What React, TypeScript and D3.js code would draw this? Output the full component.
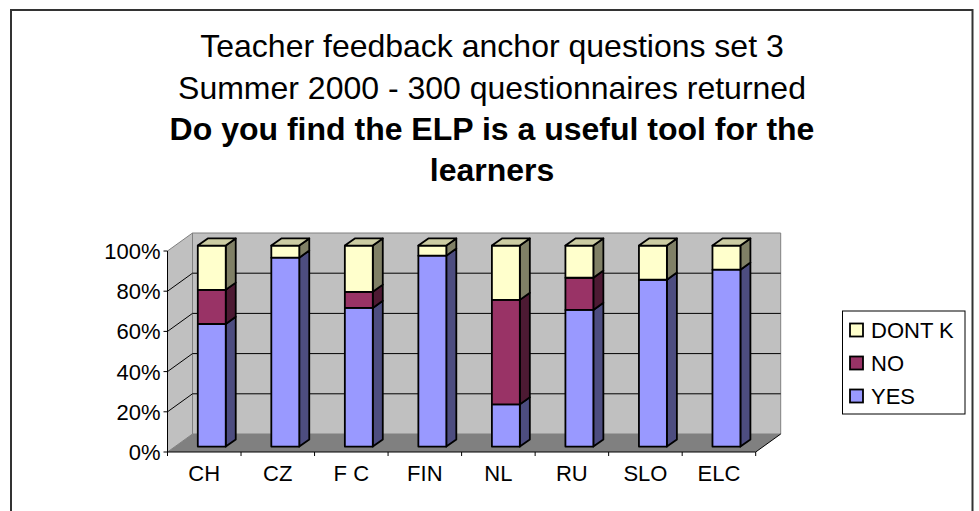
import React from 'react';
import * as d3 from 'd3';

const countries = ['CH', 'CZ', 'F C', 'FIN', 'NL', 'RU', 'SLO', 'ELC'];
const yesValues = [61, 94, 69, 95, 21, 68, 83, 88];
const noValues = [17, 0, 8, 0, 52, 16, 0, 0];
const dontKnowValues = [22, 6, 23, 5, 27, 16, 17, 12];
const seriesNames = ['YES', 'NO', 'DONT K'];
const yTicks = [0, 20, 40, 60, 80, 100];
const titleLines = [
  'Teacher feedback anchor questions set 3',
  'Summer 2000 - 300 questionnaires returned',
];
const boldTitleLines = ['Do you find the ELP is a useful tool for the', 'learners'];

// front, top, side shades for each series
const colors: Record<string, string[]> = {
  YES: ['#9999FF', '#7A7ACC', '#4D4D80'],
  NO: ['#993366', '#7A2952', '#4D1A33'],
  'DONT K': ['#FFFFCC', '#CCCCA3', '#808066'],
};

const font = 'Arial, "Liberation Sans", Helvetica, sans-serif';

export default function App() {
  const width = 979;
  const height = 511;
  const left = 167.5;
  const right = 755.7;
  const bottom = 452;
  const top = 251;
  const depthX = 25; // 3D depth of the floor
  const depthY = -18;

  const rows = countries.map((c, i) => ({
    country: c,
    YES: yesValues[i],
    NO: noValues[i],
    'DONT K': dontKnowValues[i],
  }));
  const stacked = d3.stack<any>().keys(seriesNames)(rows);

  const x = d3.scaleBand().domain(countries).range([left, right]).padding(0);
  const y = d3.scaleLinear().domain([0, 100]).range([bottom, top]);

  const barW = x.bandwidth() * 0.38;
  const frontDx = depthX * 0.3;
  const frontDy = depthY * 0.3;
  const sideDx = depthX * 0.4;
  const sideDy = depthY * 0.4;

  const pts = (p: number[][]) => p.map((q) => q.join(',')).join(' ');

  const backL = left + depthX;
  const backR = right + depthX;

  return (
    <div style={{ position: 'fixed', left: 0, top: 0 }}>
      <svg width={width} height={height} style={{ display: 'block', background: '#fff' }}>
        <rect x={11} y={10} width={961.5} height={530} fill="#fff" stroke="#333" strokeWidth={2} />

        {/* title */}
        <g fontFamily={font} fontSize={32} textAnchor="middle" fill="#000">
          {titleLines.map((t, i) => (
            <text key={t} x={492} y={57 + i * 41.5}>{t}</text>
          ))}
          {boldTitleLines.map((t, i) => (
            <text key={t} x={492} y={140 + i * 40.5} fontWeight="bold">{t}</text>
          ))}
        </g>

        {/* walls and floor */}
        <polygon
          points={pts([[left, bottom], [left, top], [backL, top + depthY], [backL, bottom + depthY]])}
          fill="#C0C0C0" stroke="#808080" strokeWidth={1}
        />
        <polygon
          points={pts([[backL, top + depthY], [backR, top + depthY], [backR, bottom + depthY], [backL, bottom + depthY]])}
          fill="#C0C0C0" stroke="#808080" strokeWidth={1}
        />
        <polygon
          points={pts([[left, bottom], [right, bottom], [backR, bottom + depthY], [backL, bottom + depthY]])}
          fill="#808080"
        />
        <line x1={right} y1={bottom} x2={backR} y2={bottom + depthY} stroke="#000" strokeWidth={1} />

        {/* gridlines */}
        {yTicks.filter((t) => t > 0 && t < 100).map((t) => (
          <g key={t} stroke="#000" strokeWidth={1}>
            <line x1={left} y1={y(t)} x2={backL} y2={y(t) + depthY} />
            <line x1={backL} y1={y(t) + depthY} x2={backR} y2={y(t) + depthY} />
          </g>
        ))}

        {/* bars */}
        {countries.map((c, i) => {
          const xl = (x(c) as number) + (x.bandwidth() - barW) / 2 + frontDx;
          const xr = xl + barW;
          const segs = stacked.filter((s) => s[i][1] - s[i][0] > 0);
          const last = segs[segs.length - 1];
          return (
            <g key={c} stroke="#000" strokeWidth={1.8} strokeLinejoin="round">
              {segs.map((s) => {
                const y0 = y(s[i][0]) + frontDy;
                const y1 = y(s[i][1]) + frontDy;
                const col = colors[s.key];
                return (
                  <g key={s.key}>
                    <polygon
                      points={pts([[xr, y1], [xr + sideDx, y1 + sideDy], [xr + sideDx, y0 + sideDy], [xr, y0]])}
                      fill={col[2]}
                    />
                    <rect x={xl} y={y1} width={barW} height={y0 - y1} fill={col[0]} />
                  </g>
                );
              })}
              {last && (
                <polygon
                  points={pts([
                    [xl, y(last[i][1]) + frontDy],
                    [xl + sideDx, y(last[i][1]) + frontDy + sideDy],
                    [xr + sideDx, y(last[i][1]) + frontDy + sideDy],
                    [xr, y(last[i][1]) + frontDy],
                  ])}
                  fill={colors[last.key][1]}
                />
              )}
            </g>
          );
        })}

        {/* axes */}
        <g stroke="#000" strokeWidth={1}>
          <line x1={left} y1={bottom} x2={left} y2={top} />
          <line x1={left} y1={bottom} x2={right} y2={bottom} />
          {yTicks.map((t) => (
            <line key={t} x1={left - 4} y1={y(t)} x2={left} y2={y(t)} />
          ))}
          {[...countries.map((c) => x(c) as number), right].map((v, i) => (
            <line key={i} x1={v} y1={bottom} x2={v} y2={bottom + 4} />
          ))}
        </g>
        <g fontFamily={font} fontSize={22} fill="#000">
          {yTicks.map((t) => (
            <text key={t} x={left - 7} y={y(t) + 8} textAnchor="end">{t}%</text>
          ))}
          {countries.map((c) => (
            <text key={c} x={(x(c) as number) + x.bandwidth() / 2} y={481} textAnchor="middle">{c}</text>
          ))}
        </g>

        {/* legend */}
        <rect x={842.5} y={311} width={122.5} height={103} fill="#fff" stroke="#000" strokeWidth={1} />
        <g fontFamily={font} fontSize={22} fill="#000">
          {[...seriesNames].reverse().map((s, i) => (
            <g key={s} transform={`translate(850,${330 + i * 33})`}>
              <rect x={0} y={-6.5} width={13} height={13} fill={colors[s][0]} stroke="#000" strokeWidth={1.8} />
              <text x={21} y={8}>{s}</text>
            </g>
          ))}
        </g>
      </svg>
    </div>
  );
}
